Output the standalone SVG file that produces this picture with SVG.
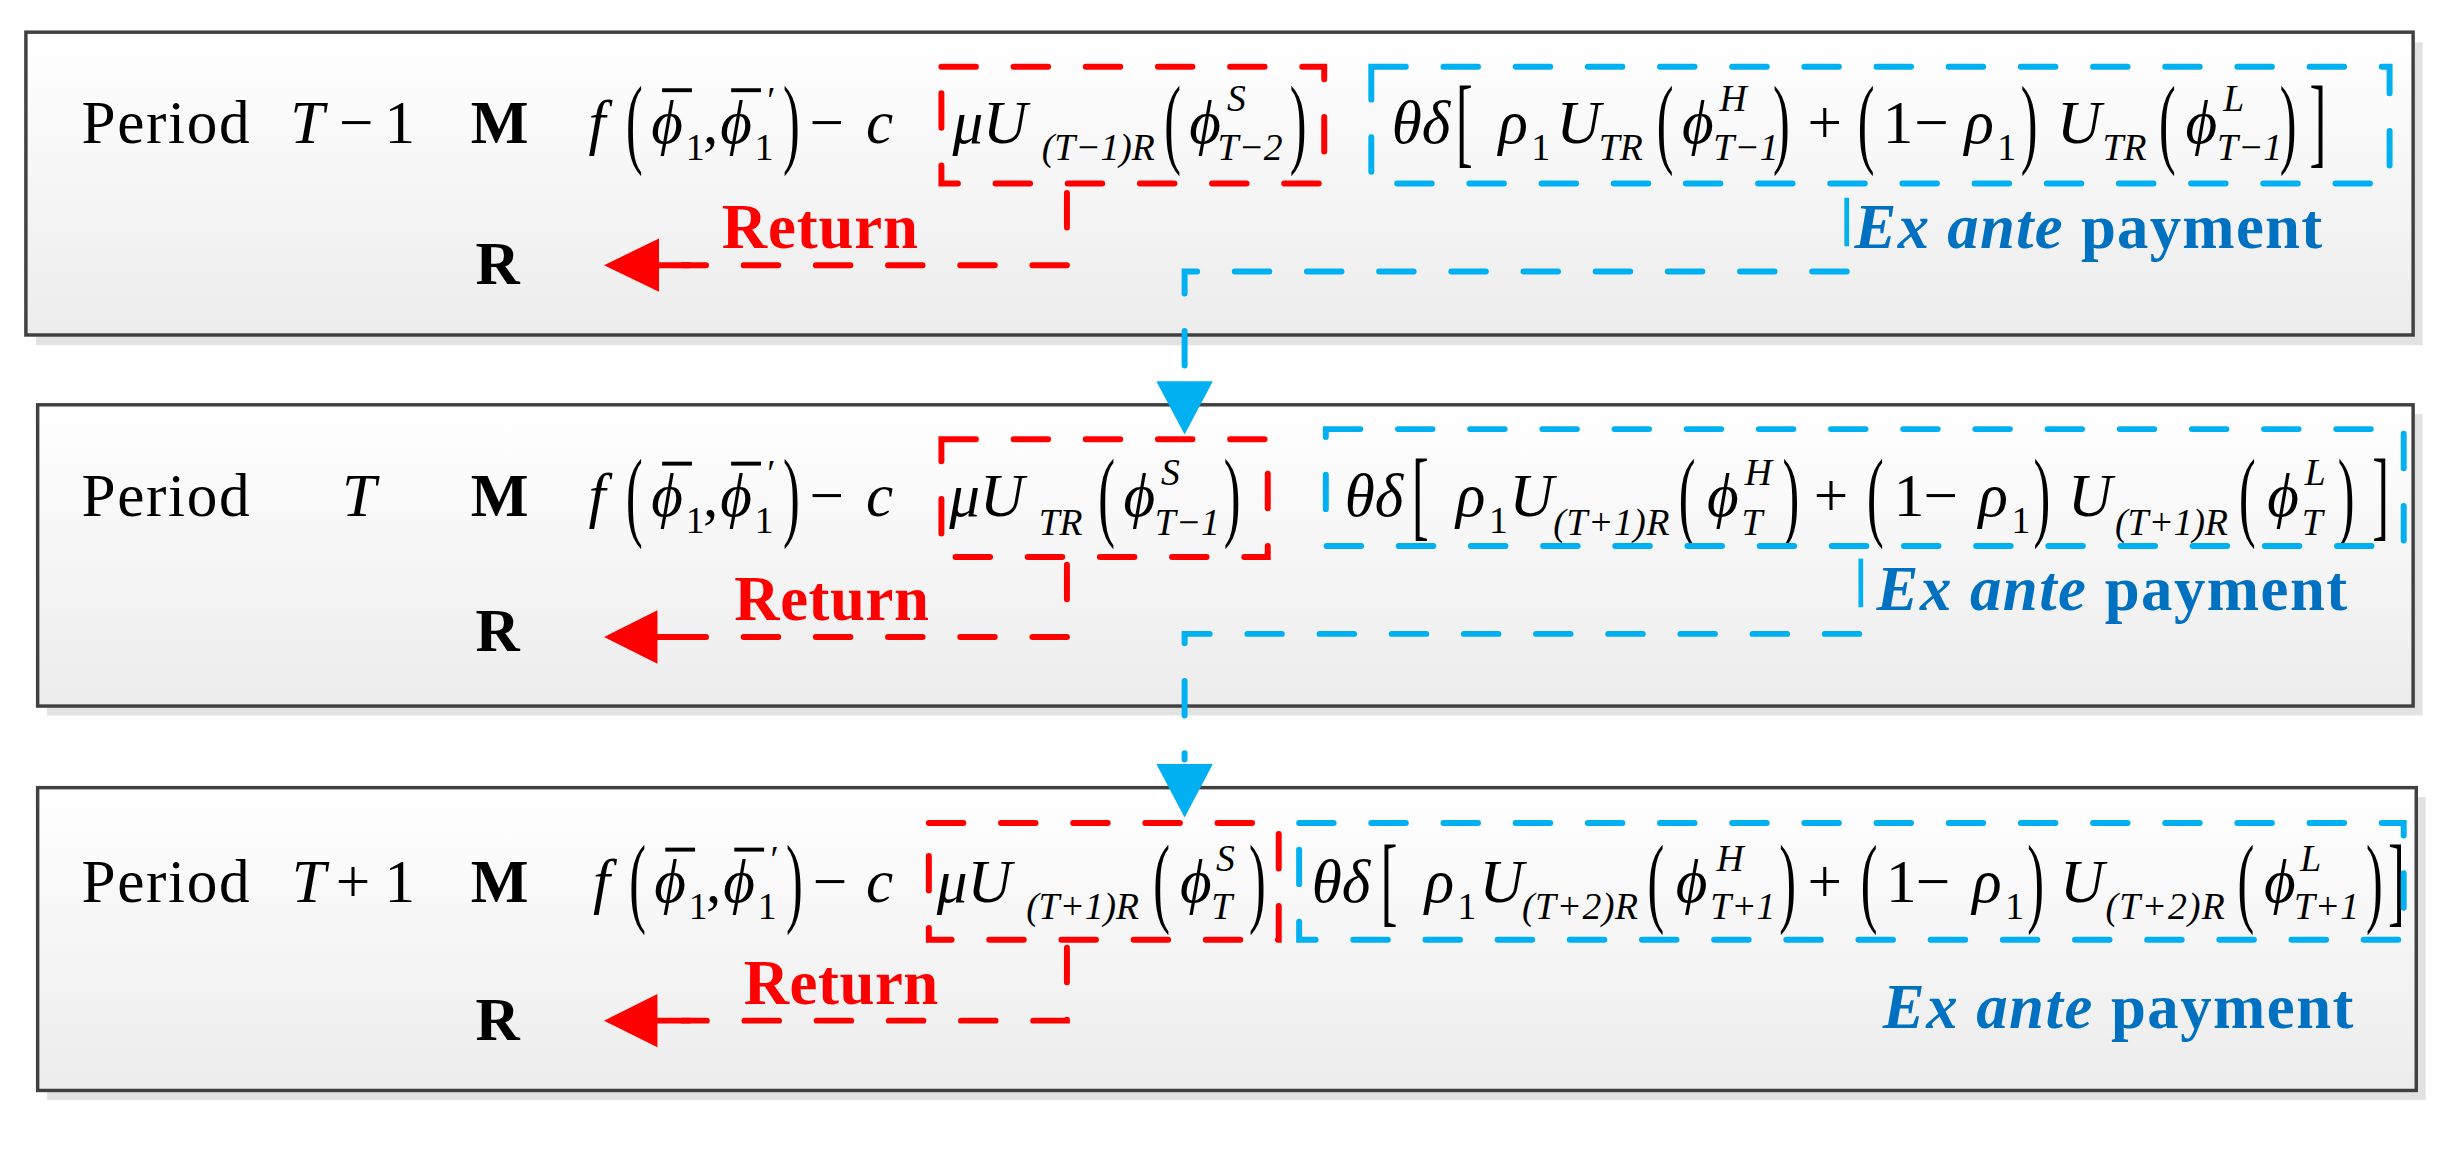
<svg xmlns="http://www.w3.org/2000/svg" width="2460" height="1161" viewBox="0 0 2460 1161">
<defs>
<linearGradient id="bg" x1="0" y1="0" x2="0" y2="1"><stop offset="0" stop-color="#ffffff"/><stop offset="1" stop-color="#ececec"/></linearGradient>
<style>
.box{fill:url(#bg);stroke:#404040;stroke-width:2.2}
.sh{fill:#e2e2e2}
.t{font-family:"Liberation Serif","Times New Roman",serif;font-size:39px;fill:#000}
.i{font-style:italic}
.s{font-family:"Liberation Serif",serif;font-style:italic;font-size:24px}
.n{font-family:"Liberation Serif",serif;font-size:24px}
.p{font-family:"Liberation Serif",serif;font-size:40px;font-weight:normal}
.b{font-weight:bold}
.rd{fill:none;stroke:#ff0000;stroke-width:3.8;stroke-dasharray:22 24;stroke-linecap:round}
.bl{fill:none;stroke:#00b0f0;stroke-width:3.8;stroke-dasharray:22 24;stroke-linecap:round}
.bar{stroke:#000;stroke-width:2.5}
.ret{font-family:"Liberation Serif",serif;font-weight:bold;font-size:40px;fill:#ff0000}
.ex{font-family:"Liberation Serif",serif;font-weight:bold;font-size:40px;fill:#0070c0}
</style>
</defs>
<g transform="scale(1.569)">
<rect class="sh" x="23" y="27" width="1521" height="193"/>
<rect class="sh" x="30" y="264" width="1514" height="192"/>
<rect class="sh" x="30" y="508" width="1516" height="193"/>

<g id="period1">
<rect class="box" x="16.5" y="20.5" width="1521.5" height="193"/>
<text class="t" x="52" y="91" textLength="107">Period</text>
<text class="t i" x="185" y="91">T</text><text class="t" x="216" y="91">−</text><text class="t" x="245" y="91">1</text>
<text class="t b" x="300" y="91">M</text>
<text class="t b" x="303" y="181">R</text>
<text class="t i" x="375" y="91">f</text>
<text class="p" transform="translate(399,98.5) scale(0.8,1.6)">(</text>
<text class="t i" x="415" y="91">ϕ</text><text class="n" x="437" y="102">1</text>
<line class="bar" x1="422" y1="57.5" x2="441" y2="57.5"/>
<text class="t" x="448" y="91">,</text>
<text class="t i" x="459" y="91">ϕ</text><text class="n" x="481" y="102">1</text><text class="n" x="489" y="72">′</text>
<line class="bar" x1="466" y1="57.5" x2="485" y2="57.5"/>
<text class="p" transform="translate(499,98.5) scale(0.8,1.6)">)</text>
<text class="t" x="516" y="91">−</text><text class="t i" x="552" y="91">c</text>
<text class="t i" x="607" y="91">μU</text><text class="s" x="664" y="102" textLength="72">(T−1)R</text>
<text class="p" transform="translate(742,98.5) scale(0.8,1.6)">(</text>
<text class="t i" x="758" y="91">ϕ</text><text class="s" x="782" y="71">S</text><text class="s" x="776" y="102">T−2</text>
<text class="p" transform="translate(822,98.5) scale(0.8,1.6)">)</text>
<text class="t i" x="887" y="91">θδ</text>
<text class="p" transform="translate(928,98.5) scale(0.8,1.6)">[</text>
<text class="t i" x="955" y="91">ρ</text><text class="n" x="976" y="102">1</text>
<text class="t i" x="992" y="91">U</text><text class="s" x="1019" y="102">TR</text>
<text class="p" transform="translate(1056,98.5) scale(0.8,1.6)">(</text>
<text class="t i" x="1072" y="91">ϕ</text><text class="s" x="1096" y="71">H</text><text class="s" x="1092" y="102">T−1</text>
<text class="p" transform="translate(1130,98.5) scale(0.8,1.6)">)</text>
<text class="t" x="1152" y="91">+</text>
<text class="p" transform="translate(1184,98.5) scale(0.8,1.6)">(</text>
<text class="t" x="1200" y="91">1</text><text class="t" x="1220" y="91">−</text>
<text class="t i" x="1252" y="91">ρ</text><text class="n" x="1273" y="102">1</text>
<text class="p" transform="translate(1288,98.5) scale(0.8,1.6)">)</text>
<text class="t i" x="1311" y="91">U</text><text class="s" x="1340" y="102">TR</text>
<text class="p" transform="translate(1376,98.5) scale(0.8,1.6)">(</text>
<text class="t i" x="1393" y="91">ϕ</text><text class="s" x="1417" y="71">L</text><text class="s" x="1413" y="102">T−1</text>
<text class="p" transform="translate(1453,98.5) scale(0.8,1.6)">)</text>
<text class="p" transform="translate(1472,98.5) scale(0.8,1.6)">]</text>
<text class="ret" x="460" y="158" textLength="125">Return</text>
<text class="ex" x="1182" y="158" textLength="298"><tspan font-style="italic">Ex ante</tspan> payment</text>
</g>

<g id="period2">
<rect class="box" x="24" y="258" width="1514" height="192"/>
<text class="t" x="52" y="329" textLength="107">Period</text>
<text class="t i" x="218" y="329">T</text>
<text class="t b" x="300" y="329">M</text>
<text class="t b" x="303" y="415">R</text>
<text class="t i" x="375" y="329">f</text>
<text class="p" transform="translate(399,336.5) scale(0.8,1.6)">(</text>
<text class="t i" x="415" y="329">ϕ</text><text class="n" x="437" y="340">1</text>
<line class="bar" x1="422" y1="295.5" x2="441" y2="295.5"/>
<text class="t" x="448" y="329">,</text>
<text class="t i" x="459" y="329">ϕ</text><text class="n" x="481" y="340">1</text><text class="n" x="489" y="310">′</text>
<line class="bar" x1="466" y1="295.5" x2="485" y2="295.5"/>
<text class="p" transform="translate(499,336.5) scale(0.8,1.6)">)</text>
<text class="t" x="516" y="329">−</text><text class="t i" x="552" y="329">c</text>
<text class="t i" x="605" y="329">μU</text><text class="s" x="662" y="341">TR</text>
<text class="p" transform="translate(700,336.5) scale(0.8,1.6)">(</text>
<text class="t i" x="716" y="329">ϕ</text><text class="s" x="740" y="309">S</text><text class="s" x="736" y="341">T−1</text>
<text class="p" transform="translate(780,336.5) scale(0.8,1.6)">)</text>
<text class="t i" x="857" y="329">θδ</text>
<text class="p" transform="translate(900,336.5) scale(0.8,1.6)">[</text>
<text class="t i" x="928" y="329">ρ</text><text class="n" x="949" y="340">1</text>
<text class="t i" x="962" y="329">U</text><text class="s" x="990" y="341" textLength="74">(T+1)R</text>
<text class="p" transform="translate(1070,336.5) scale(0.8,1.6)">(</text>
<text class="t i" x="1088" y="329">ϕ</text><text class="s" x="1112" y="309">H</text><text class="s" x="1110" y="341">T</text>
<text class="p" transform="translate(1136,336.5) scale(0.8,1.6)">)</text>
<text class="t" x="1156" y="329">+</text>
<text class="p" transform="translate(1190,336.5) scale(0.8,1.6)">(</text>
<text class="t" x="1207" y="329">1</text><text class="t" x="1226" y="329">−</text>
<text class="t i" x="1261" y="329">ρ</text><text class="n" x="1282" y="340">1</text>
<text class="p" transform="translate(1296,336.5) scale(0.8,1.6)">)</text>
<text class="t i" x="1318" y="329">U</text><text class="s" x="1348" y="341" textLength="72">(T+1)R</text>
<text class="p" transform="translate(1427,336.5) scale(0.8,1.6)">(</text>
<text class="t i" x="1445" y="329">ϕ</text><text class="s" x="1469" y="309">L</text><text class="s" x="1467" y="341">T</text>
<text class="p" transform="translate(1490,336.5) scale(0.8,1.6)">)</text>
<text class="p" transform="translate(1512,336.5) scale(0.8,1.6)">]</text>
<text class="ret" x="468" y="395" textLength="124">Return</text>
<text class="ex" x="1196" y="389" textLength="300"><tspan font-style="italic">Ex ante</tspan> payment</text>
</g>

<g id="period3">
<rect class="box" x="24" y="502" width="1516" height="193"/>
<text class="t" x="52" y="575" textLength="107">Period</text>
<text class="t i" x="186" y="575">T</text><text class="t" x="214" y="575">+</text><text class="t" x="245" y="575">1</text>
<text class="t b" x="300" y="575">M</text>
<text class="t b" x="303" y="663">R</text>
<text class="t i" x="378" y="575">f</text>
<text class="p" transform="translate(401,582.5) scale(0.8,1.6)">(</text>
<text class="t i" x="417" y="575">ϕ</text><text class="n" x="439" y="586">1</text>
<line class="bar" x1="424" y1="541.5" x2="443" y2="541.5"/>
<text class="t" x="450" y="575">,</text>
<text class="t i" x="461" y="575">ϕ</text><text class="n" x="483" y="586">1</text><text class="n" x="491" y="556">′</text>
<line class="bar" x1="468" y1="541.5" x2="487" y2="541.5"/>
<text class="p" transform="translate(501,582.5) scale(0.8,1.6)">)</text>
<text class="t" x="518" y="575">−</text><text class="t i" x="552" y="575">c</text>
<text class="t i" x="597" y="575">μU</text><text class="s" x="654" y="586" textLength="72">(T+1)R</text>
<text class="p" transform="translate(735,582.5) scale(0.8,1.6)">(</text>
<text class="t i" x="752" y="575">ϕ</text><text class="s" x="775" y="555">S</text><text class="s" x="772" y="586">T</text>
<text class="p" transform="translate(796,582.5) scale(0.8,1.6)">)</text>
<text class="t i" x="836" y="575">θδ</text>
<text class="p" transform="translate(880,582.5) scale(0.8,1.6)">[</text>
<text class="t i" x="908" y="575">ρ</text><text class="n" x="929" y="586">1</text>
<text class="t i" x="943" y="575">U</text><text class="s" x="970" y="586" textLength="74">(T+2)R</text>
<text class="p" transform="translate(1050,582.5) scale(0.8,1.6)">(</text>
<text class="t i" x="1068" y="575">ϕ</text><text class="s" x="1094" y="555">H</text><text class="s" x="1090" y="586">T+1</text>
<text class="p" transform="translate(1134,582.5) scale(0.8,1.6)">)</text>
<text class="t" x="1152" y="575">+</text>
<text class="p" transform="translate(1186,582.5) scale(0.8,1.6)">(</text>
<text class="t" x="1202" y="575">1</text><text class="t" x="1221" y="575">−</text>
<text class="t i" x="1257" y="575">ρ</text><text class="n" x="1278" y="586">1</text>
<text class="p" transform="translate(1292,582.5) scale(0.8,1.6)">)</text>
<text class="t i" x="1313" y="575">U</text><text class="s" x="1342" y="586" textLength="76">(T+2)R</text>
<text class="p" transform="translate(1426,582.5) scale(0.8,1.6)">(</text>
<text class="t i" x="1443" y="575">ϕ</text><text class="s" x="1466" y="555">L</text><text class="s" x="1462" y="586">T+1</text>
<text class="p" transform="translate(1508,582.5) scale(0.8,1.6)">)</text>
<text class="p" transform="translate(1522,582.5) scale(0.8,1.6)">]</text>
<text class="ret" x="474" y="640" textLength="124">Return</text>
<text class="ex" x="1200" y="655" textLength="300"><tspan font-style="italic">Ex ante</tspan> payment</text>
</g>

<g id="connectors">
<rect class="rd" x="600" y="42.5" width="244" height="74.5"/>
<rect class="bl" x="874" y="42.5" width="649" height="74.5"/>
<path class="rd" d="M680 123 V169 H435"/>
<polygon points="385,169 420,152 420,186" fill="#ff0000"/>
<line x1="418" y1="169" x2="440" y2="169" stroke="#ff0000" stroke-width="3.8"/>
<line x1="1177" y1="126" x2="1177" y2="157" stroke="#00b0f0" stroke-width="3"/>
<path class="bl" d="M1177 173 H755 V240"/>
<polygon points="755,277 737,243 773,243" fill="#00b0f0"/>

<rect class="rd" x="600" y="280" width="208" height="75"/>
<rect class="bl" x="845" y="273.5" width="687" height="74.5"/>
<path class="rd" d="M680 360 V406 H435"/>
<polygon points="385,406 419,389 419,423" fill="#ff0000"/>
<line x1="417" y1="406" x2="440" y2="406" stroke="#ff0000" stroke-width="3.8"/>
<line x1="1186" y1="356" x2="1186" y2="387" stroke="#00b0f0" stroke-width="3"/>
<path class="bl" d="M1185 404 H755 V484"/>
<polygon points="755,521 737,487 773,487" fill="#00b0f0"/>

<rect class="rd" x="592" y="524.5" width="223" height="74.5"/>
<rect class="bl" x="828" y="524.5" width="704" height="74.5"/>
<path class="rd" d="M680 604 V650.5 H435"/>
<polygon points="385,650.5 419,633.5 419,667.5" fill="#ff0000"/>
<line x1="417" y1="650.5" x2="440" y2="650.5" stroke="#ff0000" stroke-width="3.8"/>
</g>
</g>
</svg>
